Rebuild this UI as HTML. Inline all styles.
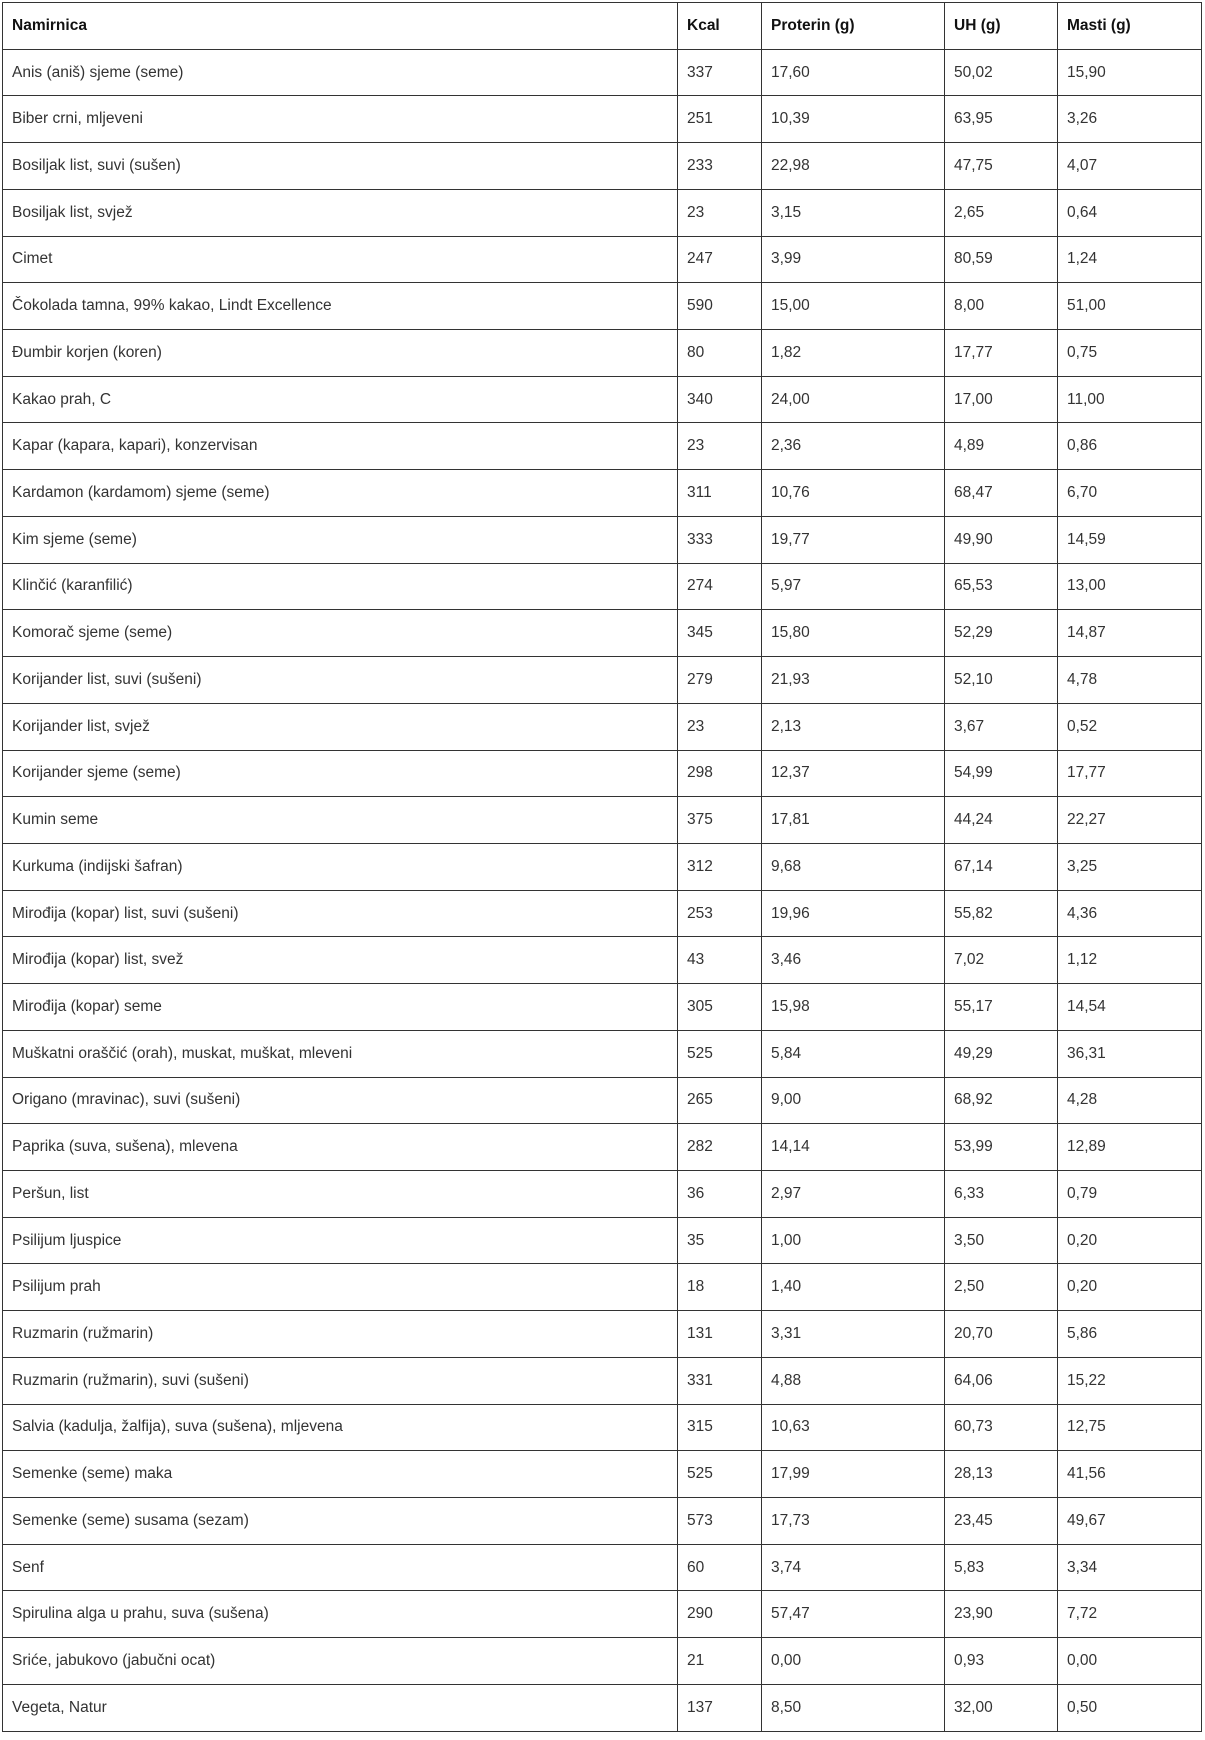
<!DOCTYPE html>
<html><head><meta charset="utf-8"><style>
html,body{margin:0;padding:0;background:#fff;width:1205px;height:1740px;overflow:hidden}
table{position:absolute;left:2px;top:2px;border-collapse:collapse;font-family:"Liberation Sans",sans-serif;font-size:15.5px;color:#333;table-layout:fixed;width:1199px}
tr{height:46.73px}
td,th{border:1.5px solid #333;padding:0 0 0 9px;text-align:left;vertical-align:middle;white-space:nowrap;overflow:hidden}
th{font-weight:bold;color:#111}
</style></head><body>
<table>
<colgroup><col style="width:675px"><col style="width:84px"><col style="width:183px"><col style="width:113px"><col style="width:144px"></colgroup>
<tr><th>Namirnica</th><th>Kcal</th><th>Proterin (g)</th><th>UH (g)</th><th>Masti (g)</th></tr>
<tr><td>Anis (aniš) sjeme (seme)</td><td>337</td><td>17,60</td><td>50,02</td><td>15,90</td></tr>
<tr><td>Biber crni, mljeveni</td><td>251</td><td>10,39</td><td>63,95</td><td>3,26</td></tr>
<tr><td>Bosiljak list, suvi (sušen)</td><td>233</td><td>22,98</td><td>47,75</td><td>4,07</td></tr>
<tr><td>Bosiljak list, svjež</td><td>23</td><td>3,15</td><td>2,65</td><td>0,64</td></tr>
<tr><td>Cimet</td><td>247</td><td>3,99</td><td>80,59</td><td>1,24</td></tr>
<tr><td>Čokolada tamna, 99% kakao, Lindt Excellence</td><td>590</td><td>15,00</td><td>8,00</td><td>51,00</td></tr>
<tr><td>Đumbir korjen (koren)</td><td>80</td><td>1,82</td><td>17,77</td><td>0,75</td></tr>
<tr><td>Kakao prah, C</td><td>340</td><td>24,00</td><td>17,00</td><td>11,00</td></tr>
<tr><td>Kapar (kapara, kapari), konzervisan</td><td>23</td><td>2,36</td><td>4,89</td><td>0,86</td></tr>
<tr><td>Kardamon (kardamom) sjeme (seme)</td><td>311</td><td>10,76</td><td>68,47</td><td>6,70</td></tr>
<tr><td>Kim sjeme (seme)</td><td>333</td><td>19,77</td><td>49,90</td><td>14,59</td></tr>
<tr><td>Klinčić (karanfilić)</td><td>274</td><td>5,97</td><td>65,53</td><td>13,00</td></tr>
<tr><td>Komorač sjeme (seme)</td><td>345</td><td>15,80</td><td>52,29</td><td>14,87</td></tr>
<tr><td>Korijander list, suvi (sušeni)</td><td>279</td><td>21,93</td><td>52,10</td><td>4,78</td></tr>
<tr><td>Korijander list, svjež</td><td>23</td><td>2,13</td><td>3,67</td><td>0,52</td></tr>
<tr><td>Korijander sjeme (seme)</td><td>298</td><td>12,37</td><td>54,99</td><td>17,77</td></tr>
<tr><td>Kumin seme</td><td>375</td><td>17,81</td><td>44,24</td><td>22,27</td></tr>
<tr><td>Kurkuma (indijski šafran)</td><td>312</td><td>9,68</td><td>67,14</td><td>3,25</td></tr>
<tr><td>Mirođija (kopar) list, suvi (sušeni)</td><td>253</td><td>19,96</td><td>55,82</td><td>4,36</td></tr>
<tr><td>Mirođija (kopar) list, svež</td><td>43</td><td>3,46</td><td>7,02</td><td>1,12</td></tr>
<tr><td>Mirođija (kopar) seme</td><td>305</td><td>15,98</td><td>55,17</td><td>14,54</td></tr>
<tr><td>Muškatni oraščić (orah), muskat, muškat, mleveni</td><td>525</td><td>5,84</td><td>49,29</td><td>36,31</td></tr>
<tr><td>Origano (mravinac), suvi (sušeni)</td><td>265</td><td>9,00</td><td>68,92</td><td>4,28</td></tr>
<tr><td>Paprika (suva, sušena), mlevena</td><td>282</td><td>14,14</td><td>53,99</td><td>12,89</td></tr>
<tr><td>Peršun, list</td><td>36</td><td>2,97</td><td>6,33</td><td>0,79</td></tr>
<tr><td>Psilijum ljuspice</td><td>35</td><td>1,00</td><td>3,50</td><td>0,20</td></tr>
<tr><td>Psilijum prah</td><td>18</td><td>1,40</td><td>2,50</td><td>0,20</td></tr>
<tr><td>Ruzmarin (ružmarin)</td><td>131</td><td>3,31</td><td>20,70</td><td>5,86</td></tr>
<tr><td>Ruzmarin (ružmarin), suvi (sušeni)</td><td>331</td><td>4,88</td><td>64,06</td><td>15,22</td></tr>
<tr><td>Salvia (kadulja, žalfija), suva (sušena), mljevena</td><td>315</td><td>10,63</td><td>60,73</td><td>12,75</td></tr>
<tr><td>Semenke (seme) maka</td><td>525</td><td>17,99</td><td>28,13</td><td>41,56</td></tr>
<tr><td>Semenke (seme) susama (sezam)</td><td>573</td><td>17,73</td><td>23,45</td><td>49,67</td></tr>
<tr><td>Senf</td><td>60</td><td>3,74</td><td>5,83</td><td>3,34</td></tr>
<tr><td>Spirulina alga u prahu, suva (sušena)</td><td>290</td><td>57,47</td><td>23,90</td><td>7,72</td></tr>
<tr><td>Sriće, jabukovo (jabučni ocat)</td><td>21</td><td>0,00</td><td>0,93</td><td>0,00</td></tr>
<tr><td>Vegeta, Natur</td><td>137</td><td>8,50</td><td>32,00</td><td>0,50</td></tr>
</table>
</body></html>
